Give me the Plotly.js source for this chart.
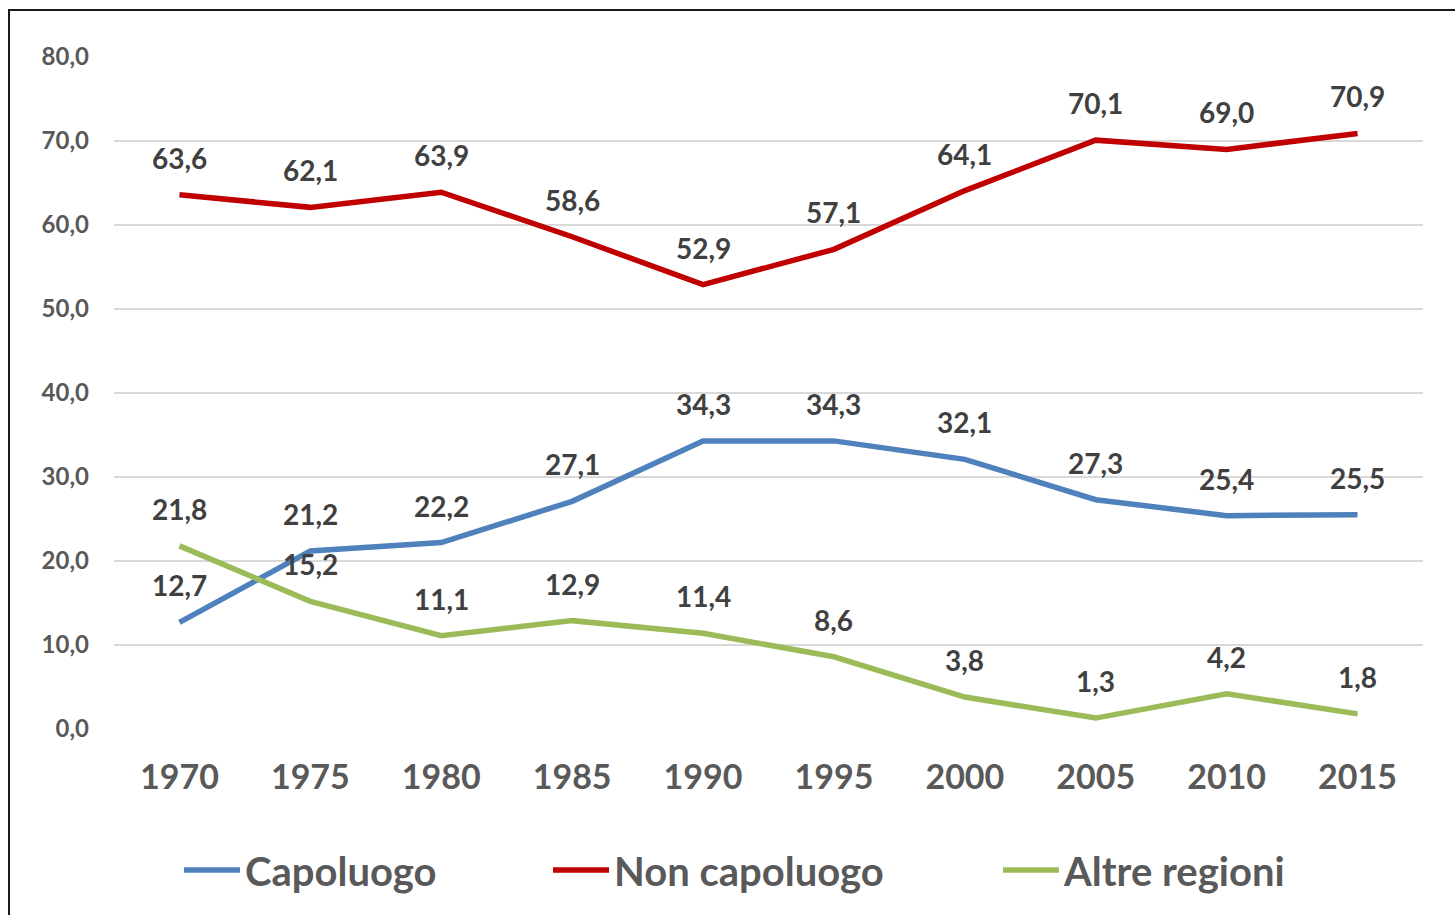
<!DOCTYPE html>
<html>
<head>
<meta charset="utf-8">
<script src="https://cdn.plot.ly/plotly-3.0.1.min.js"></script>
<style>
  html, body { margin: 0; padding: 0; background: #fff; overflow: hidden; }
  #chart { position: absolute; left: 0; top: 0; width: 1455px; height: 915px; }
  #frame { position: absolute; left: 8px; top: 9px; width: 1600px; height: 1000px;
           border-left: 2px solid #1a1a1a; border-top: 2px solid #1a1a1a; pointer-events: none; }
</style>
</head>
<body>
<div id="chart"></div>
<div id="frame"></div>
<script>
const years = ['1970','1975','1980','1985','1990','1995','2000','2005','2010','2015'];
const capoluogo = [12.7, 21.2, 22.2, 27.1, 34.3, 34.3, 32.1, 27.3, 25.4, 25.5];
const nonCapoluogo = [63.6, 62.1, 63.9, 58.6, 52.9, 57.1, 64.1, 70.1, 69.0, 70.9];
const altreRegioni = [21.8, 15.2, 11.1, 12.9, 11.4, 8.6, 3.8, 1.3, 4.2, 1.8];
const seriesNames = ['Capoluogo', 'Non capoluogo', 'Altre regioni'];
const seriesColors = ['#4F81BD', '#C00000', '#9BBB59'];
const yTicks = [0, 10, 20, 30, 40, 50, 60, 70, 80];

const fmt = v => v.toFixed(1).replace('.', ',');
const FONT = 'Lato, "Open Sans", sans-serif';
const allSeries = [capoluogo, nonCapoluogo, altreRegioni];
const legendIds = ['legend', 'legend2', 'legend3'];

const traces = allSeries.map((vals, i) => ({
  type: 'scatter', mode: 'lines', x: years, y: vals, name: seriesNames[i],
  line: { color: seriesColors[i], width: 5.5 }, hoverinfo: 'skip',
  legend: legendIds[i]
}));

// data labels: x given as category index on the category axis
const labelList = [];
allSeries.forEach(vals => {
  vals.forEach((v, j) => {
    labelList.push({
      x: j, y: v, xref: 'x', yref: 'y', text: fmt(v), showarrow: false,
      yshift: 37, font: { family: FONT, size: 28, color: '#404040', weight: 'bold' }
    });
  });
});

const legendBase = {
  orientation: 'h', yanchor: 'middle', xanchor: 'left', y: -0.21,
  bgcolor: 'rgba(0,0,0,0)', itemwidth: 56,
  font: { family: FONT, size: 40, color: '#595959', weight: 'bold' }
};
const legendX = [184, 553, 1003].map(px => (px - 114 - 5) / 1309);

const layout = {
  width: 1455, height: 915,
  margin: { l: 114, r: 32, t: 57, b: 186 },
  paper_bgcolor: '#fff', plot_bgcolor: '#fff',
  showlegend: true,
  legend: Object.assign({}, legendBase, { x: legendX[0] }),
  legend2: Object.assign({}, legendBase, { x: legendX[1] }),
  legend3: Object.assign({}, legendBase, { x: legendX[2] }),
  xaxis: {
    type: 'category', range: [-0.5, 9.5], showgrid: false, zeroline: false, showline: false,
    ticks: '', ticklabelstandoff: 25,
    tickfont: { family: FONT, size: 34, color: '#595959', weight: 'bold' }
  },
  yaxis: {
    range: [0, 80], tickvals: yTicks, ticktext: yTicks.map(fmt),
    showgrid: true, gridcolor: '#D9D9D9', gridwidth: 2, zeroline: false, showline: false,
    ticks: '', ticklabelstandoff: 24,
    tickfont: { family: FONT, size: 24, color: '#595959', weight: 'bold' }
  },
  annotations: labelList
};

Plotly.newPlot('chart', traces, layout, { displayModeBar: false, staticPlot: true });
</script>
</body>
</html>
